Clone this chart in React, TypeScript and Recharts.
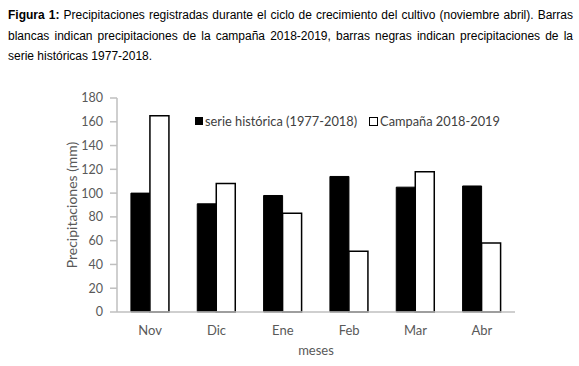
import React from "react";
import { BarChart, Bar, XAxis, YAxis, Legend, Label } from "recharts";

const months = ["Nov", "Dic", "Ene", "Feb", "Mar", "Abr"];
const historical = [100, 91, 98, 114, 105, 106];
const campaign = [165, 108, 83, 51, 118, 58];
const yTicks = [0, 20, 40, 60, 80, 100, 120, 140, 160, 180];
const seriesNames = ["serie histórica (1977-2018)", "Campaña 2018-2019"];

const data = months.map((m, i) => ({ month: m, hist: historical[i], camp: campaign[i] }));

const FONT = "Lato, 'Open Sans', sans-serif";
const TXT = "#595959";

const LegendContent = (props: any) => {
  const payload = [...(props.payload || [])].sort(
    (a: any, b: any) => seriesNames.indexOf(a.value) - seriesNames.indexOf(b.value)
  );
  return (
    <div style={{ display: "flex", alignItems: "center", fontFamily: FONT, fontSize: 12.8, color: "#404040", whiteSpace: "nowrap" }}>
      {payload.map((p: any, i: number) => (
        <div key={i} style={{ display: "flex", alignItems: "center", marginRight: i === 0 ? 12 : 0 }}>
          <span
            style={{
              display: "inline-block",
              width: i === 0 ? 6 : 7,
              height: i === 0 ? 6 : 7,
              background: p.color,
              border: "1.5px solid #000",
              marginRight: 2,
            }}
          />
          <span>{p.value}</span>
        </div>
      ))}
    </div>
  );
};

export default function App() {
  return (
    <div style={{ position: "fixed", top: 0, left: 0, width: 579, height: 366, background: "#fff" }}>
      <div
        style={{
          position: "absolute",
          top: 5,
          left: 8,
          width: 565,
          fontFamily: "'Liberation Sans', Arial, sans-serif",
          fontSize: 12,
          lineHeight: "20.5px",
          textAlign: "justify",
          color: "#000",
        }}
      >
        <b>Figura 1:</b> Precipitaciones registradas durante el ciclo de crecimiento del cultivo (noviembre abril). Barras
        blancas indican precipitaciones de la campaña 2018-2019, barras negras indican precipitaciones de la serie
        históricas 1977-2018.
      </div>
      <div style={{ position: "absolute", top: 0, left: 0 }}>
        <BarChart
          width={579}
          height={366}
          data={data}
          margin={{ top: 98, right: 64, bottom: 24, left: 72 }}
          barCategoryGap="21%"
          barGap={0}
        >
          <XAxis
            dataKey="month"
            height={30}
            interval={0}
            axisLine={{ stroke: "#bfbfbf", strokeWidth: 1.5 }}
            tickLine={false}
            tickSize={0}
            tickMargin={14}
            tick={{ fill: TXT, fontSize: 13, fontFamily: FONT }}
          >
            <Label
              content={(p: any) => {
                const vb = p.viewBox || {};
                return (
                  <text x={vb.x + vb.width / 2} y={355} textAnchor="middle" fill={TXT} fontSize={13} fontFamily={FONT}>
                    meses
                  </text>
                );
              }}
            />
          </XAxis>
          <YAxis
            width={45}
            domain={[0, 180]}
            ticks={yTicks}
            interval={0}
            axisLine={{ stroke: "#bfbfbf", strokeWidth: 1.5 }}
            tickLine={{ stroke: "#bfbfbf", strokeWidth: 1.5 }}
            tickSize={7}
            tickMargin={7}
            tick={{ fill: TXT, fontSize: 12.5, fontFamily: FONT }}
          >
            <Label
              content={(p: any) => {
                const vb = p.viewBox || {};
                const cy = vb.y + vb.height / 2;
                return (
                  <text
                    x={77}
                    y={cy}
                    textAnchor="middle"
                    fill={TXT}
                    fontSize={14}
                    fontFamily={FONT}
                    transform={`rotate(-90, 77, ${cy})`}
                  >
                    Precipitaciones (mm)
                  </text>
                );
              }}
            />
          </YAxis>
          <Legend
            layout="horizontal"
            verticalAlign="middle"
            align="center"
            content={<LegendContent />}
            wrapperStyle={{ position: "absolute", top: 113, left: 195, width: "auto" }}
          />
          <Bar dataKey="hist" name={seriesNames[0]} fill="#000" stroke="#000" strokeWidth={1} isAnimationActive={false} />
          <Bar dataKey="camp" name={seriesNames[1]} fill="#fff" stroke="#000" strokeWidth={1.5} isAnimationActive={false} />
        </BarChart>
      </div>
    </div>
  );
}
